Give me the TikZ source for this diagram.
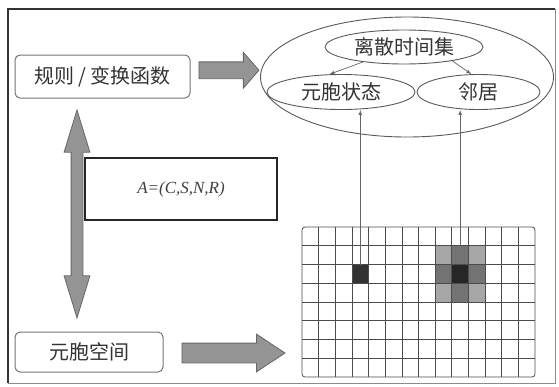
\documentclass[tikz,border=0pt]{standalone}
\usepackage{fontspec}
\newfontfamily\cjk{Noto Sans CJK SC}
\newfontfamily\tms{Liberation Serif}
\usetikzlibrary{shapes,arrows,calc}

\begin{document}
\begin{tikzpicture}[x=1pt,y=-1pt,
  box/.style={draw=black!55, rounded corners=5pt, line width=1pt, inner sep=0pt,
    text=black!80, font=\cjk\fontsize{20}{22}\selectfont},
  oval/.style={draw=black!65, ellipse, line width=0.9pt, inner sep=0pt,
    text=black!80, font=\cjk\fontsize{20}{22}\selectfont},
  fatarrow/.style={draw=black!60, fill=black!42, line width=0.8pt, inner xsep=0pt},
  link/.style={draw=black!60, line width=0.7pt, -latex},
  gridline/.style={draw=black!70, line width=0.8pt}]
     \useasboundingbox (0,0) rectangle (559,386);
     % outer frame
     \draw [black!45, line width=0.8pt] (8,9) rectangle (555,383);
     \draw [black!80, line width=2pt] (8,383) -- (8,9) -- (555,9);

     % left column
     \node [box, minimum width=175pt, minimum height=43pt] (rule) at (102.5,76.5) {规则 / 变换函数};
     \node [box, minimum width=148pt, minimum height=40pt] (space) at (89,352) {元胞空间};
     \node [fatarrow, double arrow, rotate=90, minimum height=208pt, minimum width=25pt, inner ysep=5.5pt,
            double arrow head extend=7pt, double arrow tip angle=34] (updown) at (77,214) {};
     \node [draw=black!85, line width=1.4pt, minimum width=192pt, minimum height=62pt,
            font=\tms\itshape\fontsize{17}{19}\selectfont, text=black!75] (model) at (181,189) {A=(C,S,N,R)};

     % ellipses
     \node [oval, minimum width=293pt, minimum height=120pt] (big) at (407,77) {};
     \node [oval, minimum width=158pt, minimum height=34pt] (time) at (404,47) {离散时间集};
     \node [oval, minimum width=148pt, minimum height=35pt] (state) at (341,92) {元胞状态};
     \node [oval, minimum width=123pt, minimum height=35pt] (nbr) at (478.5,92) {邻居};
     \draw [link] (time.200) -- (state.123);
     \draw [link] (time.-16) -- (nbr.112);

     % block arrows
     \node [fatarrow, single arrow, minimum height=60pt, minimum width=35pt, inner ysep=8pt,
            single arrow head extend=9.5pt, single arrow tip angle=98]
            (toset) at ($(rule.east)!0.5!(big.west)+(0,-6.5)$) {};
     \node [fatarrow, single arrow, minimum height=103pt, minimum width=37pt, inner ysep=9.5pt,
            single arrow head extend=9pt, single arrow tip angle=67] (togrid) at (226,353) {};

     % cell grid
     \fill [black!80] (302+3*16.65,227+2*18.75) rectangle +(16.65,18.75);
     \fill [black!35] (302+8*16.65,227+1*18.75) rectangle +(3*16.65,3*18.75);
     \fill [black!55] (302+9*16.65,227+1*18.75) rectangle +(16.65,3*18.75);
     \fill [black!55] (302+8*16.65,227+2*18.75) rectangle +(3*16.65,18.75);
     \fill [black!85] (302+9*16.65,227+2*18.75) rectangle +(16.65,18.75);
     \foreach \i in {1,...,13}
       \draw [gridline] (302+\i*16.65,227) -- (302+\i*16.65,377);
     \foreach \j in {1,...,7}
       \draw [gridline] (302,227+\j*18.75) -- (535,227+\j*18.75);
     \draw [gridline, rounded corners=3pt] (302,227) rectangle (535,377);
     \coordinate (cellA) at (302+3.5*16.65,227+2*18.75);
     \coordinate (cellB) at (302+9.5*16.65,227+1*18.75);
     \draw [link] (cellA) -- (cellA |- state.south);
     \draw [link] (cellB) -- (cellB |- nbr.south);
\end{tikzpicture}
\end{document}
